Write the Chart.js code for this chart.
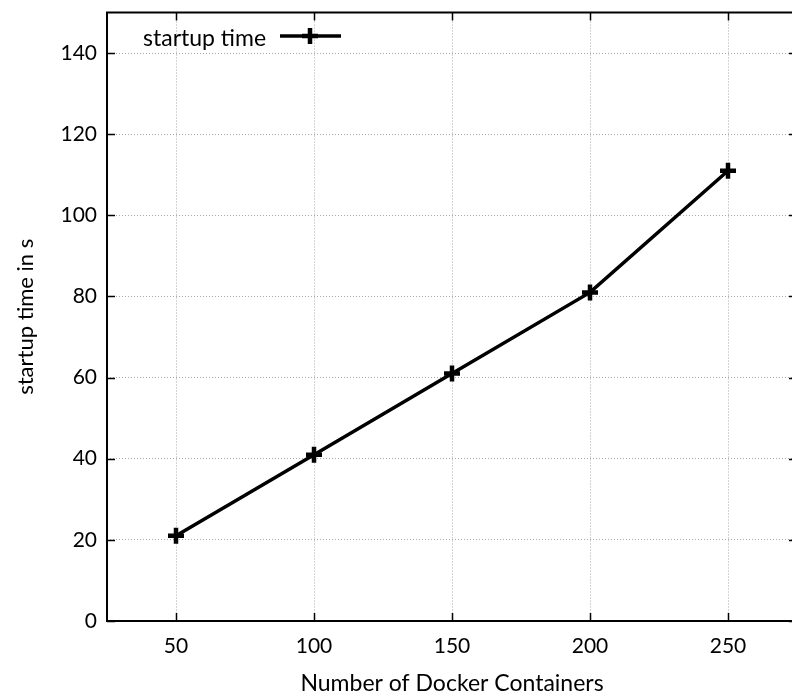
<!DOCTYPE html>
<html>
<head>
<meta charset="utf-8">
<script src="https://cdn.jsdelivr.net/npm/chart.js@4/dist/chart.umd.min.js"></script>
<style>
  html, body { margin: 0; padding: 0; background: #fff; overflow: hidden; }
</style>
</head>
<body>
<canvas id="chart" width="792" height="698"></canvas>
<script>
const containers = [50, 100, 150, 200, 250]
const startupTimes = [21, 41, 61, 81, 111]
const xTicks = [50, 100, 150, 200, 250]
const yTicks = [0, 20, 40, 60, 80, 100, 120, 140]
const seriesLabel = "startup time"
const xTitle = "Number of Docker Containers"
const yTitle = "startup time in s"

const FONT = "Lato"
Chart.defaults.font.family = FONT
Chart.defaults.font.size = 21
Chart.defaults.color = "#000"

const PLOT_RIGHT = 797 // frame runs just past the right edge of the picture, as in the original

// stretch the plot area past the canvas edge
const stretchArea = chart => {
  chart.chartArea.right = PLOT_RIGHT
  chart.chartArea.width = PLOT_RIGHT - chart.chartArea.left
}
const stretchPlugin = {
  id: "stretch",
  afterLayout(chart) {
    const x = chart.scales.x
    stretchArea(chart)
    x.right = PLOT_RIGHT
    x.width = PLOT_RIGHT - x.left
    x.configure()
  },
  beforeDraw(chart) { stretchArea(chart) }
}

// gnuplot style frame with inward ticks on all four sides, plus the key inside the plot
const framePlugin = {
  id: "frame",
  afterDraw(chart) {
    const { ctx, scales } = chart
    const left = scales.x.left, right = scales.x.right
    const top = scales.y.top, bottom = scales.y.bottom
    ctx.save()
    ctx.strokeStyle = "#000"
    ctx.lineWidth = 1.5
    const tl = 8
    xTicks.forEach(v => {
      const x = Math.round(scales.x.getPixelForValue(v)) + 0.5
      ctx.beginPath()
      ctx.moveTo(x, bottom); ctx.lineTo(x, bottom - tl)
      ctx.moveTo(x, top); ctx.lineTo(x, top + tl)
      ctx.stroke()
    })
    yTicks.forEach(v => {
      const y = Math.round(scales.y.getPixelForValue(v)) + 0.5
      ctx.beginPath()
      ctx.moveTo(left, y); ctx.lineTo(left + tl, y)
      ctx.moveTo(right, y); ctx.lineTo(right - tl, y)
      ctx.stroke()
    })
    ctx.lineWidth = 2
    ctx.strokeRect(left, top, right - left, bottom - top)

    // key
    const ds = chart.data.datasets[0]
    ctx.font = "23px " + FONT
    ctx.fillStyle = "#000"
    ctx.textBaseline = "middle"
    ctx.textAlign = "left"
    ctx.fillText(ds.label, left + 36, top + 26)
    const ly = top + 23.5
    ctx.lineWidth = ds.borderWidth
    ctx.beginPath()
    ctx.moveTo(left + 173, ly); ctx.lineTo(left + 234, ly)
    ctx.stroke()
    ctx.lineWidth = ds.pointBorderWidth
    const cx = left + 203
    ctx.beginPath()
    ctx.moveTo(cx - 8, ly); ctx.lineTo(cx + 8, ly)
    ctx.moveTo(cx, ly - 8); ctx.lineTo(cx, ly + 8)
    ctx.stroke()
    ctx.restore()
  }
}

const noPad = s => { s.paddingTop = 0; s.paddingBottom = 0; s.paddingLeft = 0; s.paddingRight = 0 }

new Chart(document.getElementById("chart"), {
  type: "line",
  data: {
    datasets: [{
      label: seriesLabel,
      data: containers.map((c, i) => ({ x: c, y: startupTimes[i] })),
      borderColor: "#000",
      backgroundColor: "#000",
      borderWidth: 3.5,
      pointStyle: "cross",
      pointRadius: 8,
      pointBorderWidth: 4.5,
      pointBorderColor: "#000",
      tension: 0
    }]
  },
  options: {
    responsive: false,
    animation: false,
    devicePixelRatio: 1,
    layout: { padding: { top: 9, right: 0, left: 0, bottom: 0 } },
    plugins: { legend: { display: false }, tooltip: { enabled: false } },
    scales: {
      x: {
        type: "linear",
        min: 25,
        max: 275,
        afterBuildTicks: s => { s.ticks = xTicks.map(v => ({ value: v })) },
        afterFit: s => { s.height = 77; noPad(s) },
        grid: { color: "#a8a8a8", lineWidth: 1, drawTicks: false },
        border: { display: false, dash: [1, 2] },
        ticks: { padding: 13, maxRotation: 0, font: { size: 21 } },
        title: { display: true, text: xTitle, font: { size: 23 }, padding: { top: 0, bottom: 1 } }
      },
      y: {
        min: 0,
        max: 150,
        afterBuildTicks: s => { s.ticks = yTicks.map(v => ({ value: v })) },
        afterFit: s => { s.width = 107; noPad(s) },
        grid: { color: "#a8a8a8", lineWidth: 1, drawTicks: false },
        border: { display: false, dash: [1, 2] },
        ticks: { padding: 10, font: { size: 21 } },
        title: { display: true, text: yTitle, font: { size: 22 }, padding: { top: 13, bottom: 0 } }
      }
    }
  },
  plugins: [stretchPlugin, framePlugin]
})
</script>
</body>
</html>
